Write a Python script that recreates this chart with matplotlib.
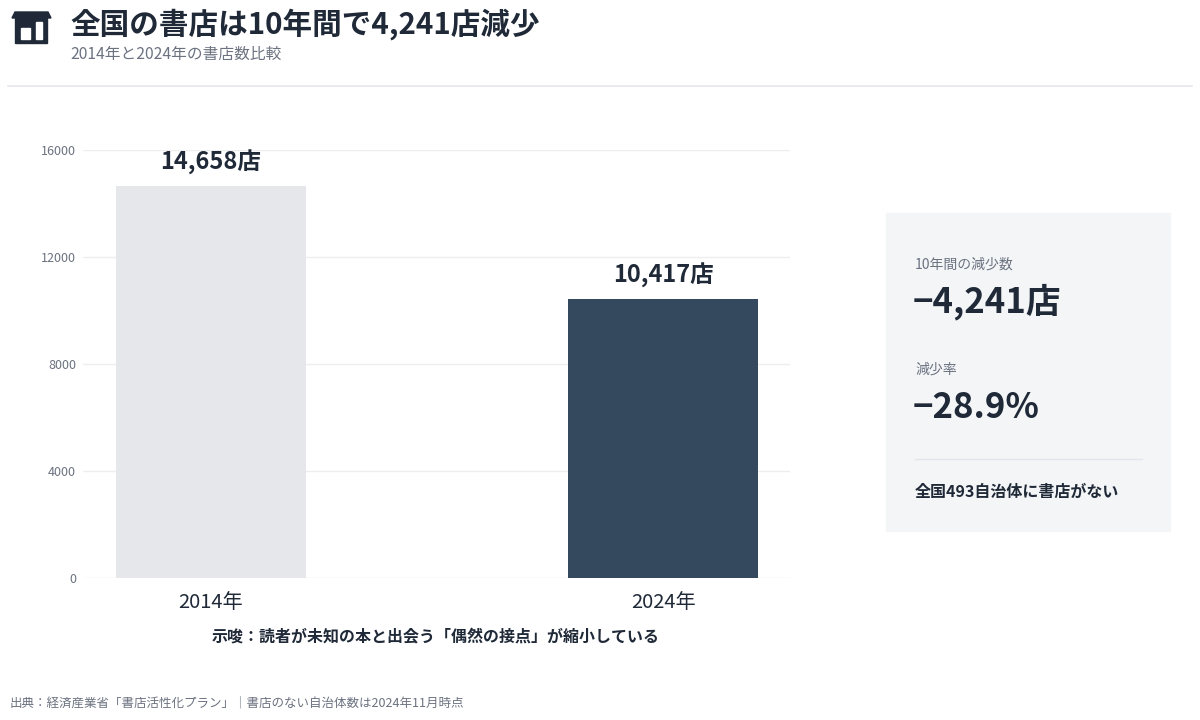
import matplotlib.pyplot as plt
from matplotlib.patches import Rectangle, Polygon
from matplotlib.lines import Line2D

plt.rcParams['font.family'] = ['Noto Sans CJK JP', 'DejaVu Sans']

# data
years = ['2014年', '2024年']
stores = [14658, 10417]
bar_labels = ['14,658店', '10,417店']
bar_colors = ['#e5e7eb', '#34495e']
yticks = [0, 4000, 8000, 12000, 16000]

W, H = 1200, 720
fig = plt.figure(figsize=(12, 7.2), dpi=100)


def fx(x):
    return x / W


def fy(y):
    return 1 - y / H


dark = '#1f2937'
gray = '#6b7280'

# header icon (store)
icon = [
    Polygon([(fx(15), fy(12)), (fx(48), fy(12)), (fx(51), fy(18)), (fx(12), fy(18))],
            closed=True, color=dark),
    Rectangle((fx(15), fy(43)), fx(32), 25 / H, color=dark),
    Rectangle((fx(21), fy(39)), fx(9), 11 / H, color='white'),
    Rectangle((fx(36), fy(39)), fx(6), 17 / H, color='white'),
]
for p in icon:
    p.set_transform(fig.transFigure)
    fig.patches.append(p)

fig.text(fx(70), fy(24), '全国の書店は10年間で4,241店減少', fontsize=21.3, fontweight='bold',
         color=dark, va='center', ha='left')
fig.text(fx(70), fy(54), '2014年と2024年の書店数比較', fontsize=11.3, color=gray,
         va='center', ha='left')
fig.add_artist(Line2D([fx(8), fx(1192)], [fy(86), fy(86)], color='#e5e7eb', lw=1.2,
                      transform=fig.transFigure))

# bar chart
ax = fig.add_axes([fx(83), fy(578), 707 / W, 428 / H])
x = range(len(years))
ax.bar(x, stores, width=0.42, color=bar_colors, zorder=2)
for xi, v, lab in zip(x, stores, bar_labels):
    ax.annotate(lab, (xi, v), xytext=(0, 8), textcoords='offset points', ha='center',
                va='bottom', fontsize=17, fontweight='bold', color=dark)
ax.set_xlim(-0.282, 1.28)
ax.set_ylim(0, 16000)
ax.set_yticks(yticks)
ax.set_yticklabels([str(t) for t in yticks])
ax.set_xticks(list(x))
ax.set_xticklabels(years)
ax.tick_params(axis='y', length=0, pad=5, labelsize=9, labelcolor=gray)
ax.tick_params(axis='x', length=0, pad=10, labelsize=14.5, labelcolor=dark)
ax.grid(axis='y', color='#eeeeee', lw=1, zorder=0)
ax.set_axisbelow(True)
for s in ax.spines.values():
    s.set_visible(False)

fig.text(fx(436), fy(637), '示唆：読者が未知の本と出会う「偶然の接点」が縮小している', fontsize=11.5,
         fontweight='bold', color=dark, ha='center', va='center')

# side panel
panel = Rectangle((fx(886), fy(531)), fx(284), 318 / H, color='#f3f5f7',
                  transform=fig.transFigure, zorder=0)
fig.patches.append(panel)
fig.text(fx(915), fy(265), '10年間の減少数', fontsize=10, color=gray, va='center')
fig.text(fx(913), fy(302), '−4,241店', fontsize=25, fontweight='bold', color=dark, va='center')
fig.text(fx(915), fy(370), '減少率', fontsize=10, color=gray, va='center')
fig.text(fx(913), fy(407), '−28.9%', fontsize=25, fontweight='bold', color=dark, va='center')
fig.add_artist(Line2D([fx(915), fx(1142)], [fy(459), fy(459)], color='#e2e5e9', lw=1,
                      transform=fig.transFigure))
fig.text(fx(915), fy(492), '全国493自治体に書店がない', fontsize=11.5, fontweight='bold',
         color=dark, va='center')

fig.text(fx(10), fy(703), '出典：経済産業省「書店活性化プラン」｜書店のない自治体数は2024年11月時点',
         fontsize=9, color=gray, va='center')

fig.savefig('out.png', dpi=100)
